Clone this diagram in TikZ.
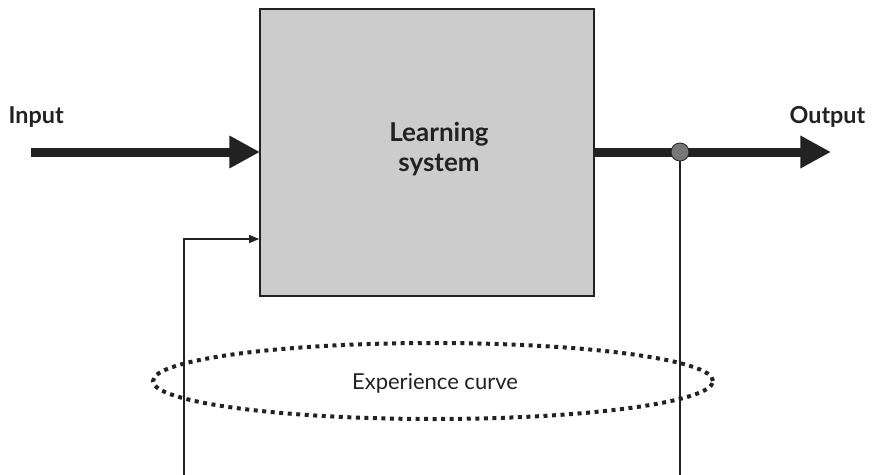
\documentclass[tikz,border=0pt]{standalone}
\usepackage{fontspec}
\setmainfont{Lato}
\usetikzlibrary{arrows.meta,shapes.geometric}

\definecolor{boxgray}{HTML}{CCCCCC}
\definecolor{inkgray}{HTML}{222222}
\definecolor{dotgray}{HTML}{777777}

\tikzset{
  sysbox/.style={draw=inkgray, line width=1.2pt, fill=boxgray, minimum width=250.5pt, minimum height=215.25pt, inner sep=0pt},
  bigname/.style={font=\fontsize{19.5}{22}\selectfont\bfseries, text=inkgray, align=center},
  ioname/.style={font=\fontsize{17.5}{20}\selectfont\bfseries, text=inkgray},
  flowline/.style={line width=6.75pt, draw=inkgray, -{Triangle[length=23pt, width=23pt]}},
  fbline/.style={line width=0.9pt, draw=inkgray},
  curvering/.style={ellipse, draw=inkgray, line width=3pt, dash pattern=on 3pt off 3.4pt, minimum width=420pt, minimum height=57pt, inner sep=0pt},
}

\begin{document}
\begin{tikzpicture}[x=0.75pt, y=-0.75pt]
			%%%%% START %%%%%
			\useasboundingbox (0, 0) rectangle (872, 475);
			
			\node[sysbox] (learnsys) at (427, 152.5) {};
			\node[bigname] (sysname) at (439, 149) {Learning\\system};
			
			\node[ioname, anchor=west] (inname) at (4, 117) {Input};
			\node[ioname, anchor=east] (outname) at (870, 117) {Output};
			
			\coordinate (instart) at (31, 152);
			\coordinate (outtip) at (831, 152);
			\draw[flowline, shorten >=-0.6pt] (instart) -- (instart -| learnsys.west);
			\draw[flowline] (learnsys.east |- outtip) -- (outtip);
			
			\coordinate (tap) at (680, 152);
			\coordinate (tapfoot) at (680, 476);
			\coordinate (fbfoot) at (184, 476);
			\coordinate (fbcorner) at (184, 239);
			
			\draw[fbline] (tap) -- (tapfoot);
			\draw[fbline, -{Triangle[length=7.5pt, width=6pt]}] (fbfoot) -- (fbcorner) -- (fbcorner -| learnsys.west);
			\draw[line width=0.6pt, draw=inkgray, fill=dotgray] (tap) circle (9);
			
			\node[curvering] (curve) at (433, 381) {};
			\node[font=\fontsize{16.5}{19}\selectfont, text=inkgray] (curvename) at (435, 383) {Experience curve};
			%%%%% END %%%%%
\end{tikzpicture}
\end{document}
